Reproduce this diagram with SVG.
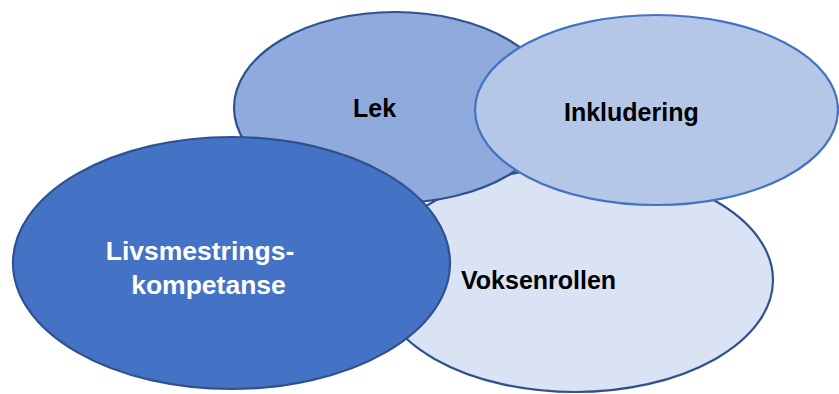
<svg xmlns="http://www.w3.org/2000/svg" width="839" height="394" viewBox="0 0 839 394">
<style>
  .shape { stroke-width: 2.2; }
  .lbl { font-family: "Liberation Sans", Arial, sans-serif; font-weight: bold; font-size: 25px; fill: #000; }
  .wlbl { font-family: "Liberation Sans", Arial, sans-serif; font-weight: bold; font-size: 26.5px; fill: #fff; text-anchor: middle; }
</style>
<rect width="839" height="394" fill="#ffffff"/>
<g id="voksenrollen">
  <ellipse class="shape" cx="575" cy="280" rx="198" ry="112" fill="#DAE3F3" stroke="#2F528F"/>
  <text class="lbl" x="461" y="289">Voksenrollen</text>
</g>
<g id="lek">
  <ellipse class="shape" cx="395" cy="107.5" rx="161" ry="95.5" fill="#8FAADC" stroke="#2F528F"/>
  <text class="lbl" x="353" y="117">Lek</text>
</g>
<g id="inkludering">
  <ellipse class="shape" cx="656.5" cy="110" rx="181.5" ry="95" fill="#B4C7E7" stroke="#4472C4"/>
  <text class="lbl" x="564" y="121">Inkludering</text>
</g>
<g id="livsmestringskompetanse">
  <ellipse class="shape" cx="231.5" cy="263" rx="218.5" ry="126" fill="#4472C4" stroke="#2F528F"/>
  <text class="wlbl" x="200" y="260">Livsmestrings-</text>
  <text class="wlbl" x="208.5" y="294">kompetanse</text>
</g>
<g id="connectors"></g>
</svg>
